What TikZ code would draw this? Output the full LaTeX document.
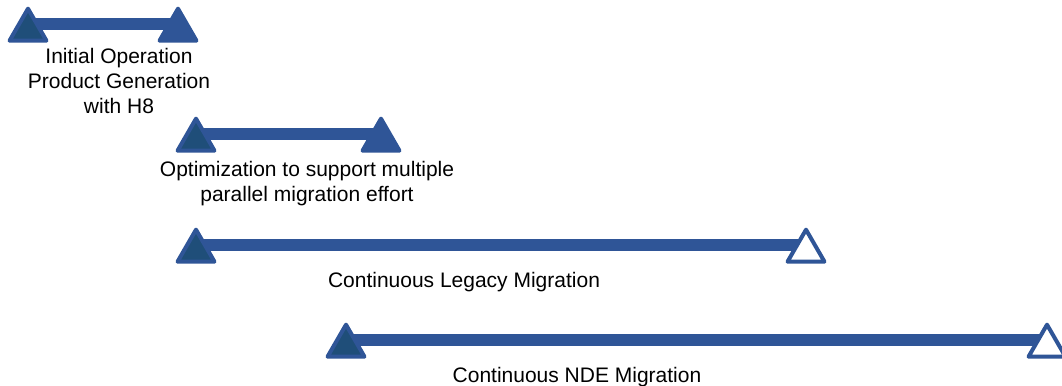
\documentclass[tikz,border=0pt]{standalone}
\usepackage{fontspec}
\setmainfont{Liberation Sans}
\usetikzlibrary{shapes.geometric,backgrounds}
\definecolor{Bar}{HTML}{2F5597}
\definecolor{Deep}{HTML}{1F4E79}
\tikzset{
  tri/.style={regular polygon,regular polygon sides=3,minimum size=32pt,inner sep=0pt,
    draw=Bar,line width=3pt,line join=round},
  startmark/.style={tri,fill=Deep},
  endmark/.style={tri,fill=Bar},
  openmark/.style={tri,fill=white},
  bar/.style={Bar,line width=8.5pt},
  lbl/.style={anchor=north,inner sep=0pt,align=center,font=\fontsize{15.75}{18.75}\selectfont}
}

\begin{document}
\begin{tikzpicture}[x=0.75pt,y=-0.75pt]
\useasboundingbox (0,0) rectangle (1062,385);
\node[startmark] (s1) at (28,30) {};
\node[endmark] (e1) at (178,30) {};
\node[startmark] (s2) at (196,140) {};
\node[endmark] (e2) at (381,140) {};
\node[startmark] (s3) at (196,251) {};
\node[openmark] (e3) at (806,251) {};
\node[startmark] (s4) at (346,346) {};
\node[openmark] (e4) at (1047,346) {};
\begin{scope}[on background layer]
\foreach \a/\b in {s1/e1,s2/e2,s3/e3,s4/e4} {
  \draw[bar] ([yshift=4.5pt]\a.center) -- ([yshift=4.5pt]\b.center);
}
\end{scope}
\node[lbl] (l1) at (119,48) {Initial Operation\\Product Generation\\with H8};
\node[lbl] (l2) at (307,161) {Optimization to support multiple\\parallel migration effort};
\node[lbl] (l3) at (464,272) {Continuous Legacy Migration};
\node[lbl] (l4) at (577,367) {Continuous NDE Migration};
\end{tikzpicture}
\end{document}
